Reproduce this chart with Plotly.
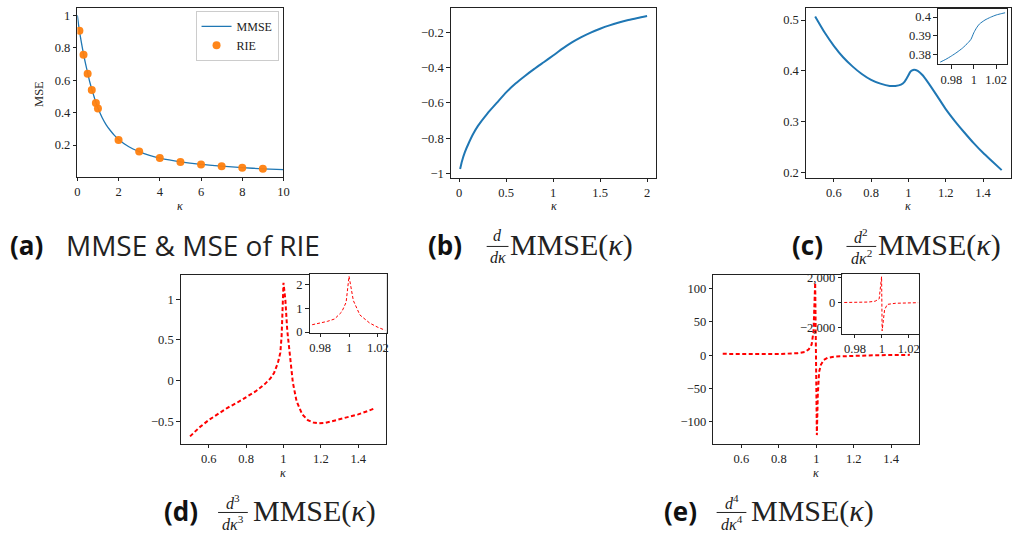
import plotly.graph_objects as go

# ---------------------------------------------------------------- data
# (a) MMSE curve and RIE estimates
kappa_mmse = [0, 0.1, 0.2, 0.3, 0.4, 0.5, 0.6, 0.7, 0.8, 0.9, 1.0, 1.2, 1.4, 1.6,
              1.8, 2.0, 2.5, 3.0, 3.5, 4.0, 5.0, 6.0, 7.0, 8.0, 9.0, 10.0]
mmse = [1.0, 0.905, 0.83, 0.76, 0.70, 0.645, 0.59, 0.545, 0.503, 0.463, 0.428,
        0.37, 0.325, 0.29, 0.26, 0.235, 0.19, 0.16, 0.137, 0.12, 0.097, 0.081,
        0.07, 0.061, 0.054, 0.049]
kappa_rie = [0.1, 0.3, 0.5, 0.7, 0.9, 1.0, 2, 3, 4, 5, 6, 7, 8, 9]
mse_rie = [0.905, 0.757, 0.64, 0.54, 0.46, 0.425, 0.232, 0.16, 0.12, 0.096,
           0.08, 0.07, 0.061, 0.054]

# (b) first derivative
kappa_d1 = [0.01, 0.03, 0.06, 0.1, 0.15, 0.2, 0.3, 0.4, 0.5, 0.6, 0.7, 0.8, 0.9,
            1.0, 1.1, 1.2, 1.3, 1.4, 1.5, 1.6, 1.7, 1.8, 1.9, 2.0]
d1 = [-0.975, -0.93, -0.88, -0.83, -0.775, -0.73, -0.66, -0.6, -0.54, -0.49,
      -0.447, -0.407, -0.369, -0.331, -0.292, -0.257, -0.227, -0.201, -0.179,
      -0.16, -0.144, -0.13, -0.118, -0.107]

# (c) second derivative
kappa_d2 = [0.5, 0.55, 0.6, 0.65, 0.7, 0.75, 0.8, 0.85, 0.9, 0.93, 0.96, 0.98,
            1.0, 1.01, 1.02, 1.03, 1.05, 1.075, 1.1, 1.15, 1.2, 1.25, 1.3, 1.35,
            1.4, 1.45, 1.5]
d2 = [0.507, 0.476, 0.4495, 0.427, 0.409, 0.394, 0.3825, 0.375, 0.3705, 0.3705,
      0.373, 0.379, 0.3915, 0.398, 0.401, 0.4025, 0.400, 0.392, 0.380, 0.353,
      0.325, 0.301, 0.279, 0.258, 0.239, 0.222, 0.205]
kappa_d2_zoom = [0.97, 0.975, 0.98, 0.985, 0.99, 0.995, 0.9975, 1.0, 1.0025,
                 1.005, 1.01, 1.015, 1.02, 1.025, 1.028]
d2_zoom = [0.3757, 0.3772, 0.379, 0.381, 0.3833, 0.3862, 0.388, 0.3915, 0.3942,
           0.3962, 0.3984, 0.3999, 0.4011, 0.4019, 0.4023]

# (d) third derivative
kappa_d3 = [0.5, 0.55, 0.6, 0.65, 0.7, 0.75, 0.8, 0.85, 0.9, 0.93, 0.95, 0.97,
            0.983, 0.99, 1.0, 1.01, 1.02, 1.03, 1.04, 1.05, 1.07, 1.1, 1.13, 1.16,
            1.19, 1.22, 1.25, 1.3, 1.35, 1.4, 1.45, 1.49]
d3 = [-0.68, -0.57, -0.48, -0.40, -0.33, -0.27, -0.2, -0.13, -0.04, 0.03, 0.10,
      0.22, 0.345, 0.55, 1.2, 0.99, 0.62, 0.38, 0.14, -0.02, -0.25, -0.41, -0.48,
      -0.51, -0.52, -0.515, -0.5, -0.47, -0.44, -0.41, -0.37, -0.335]
kappa_d3_zoom = [0.9745, 0.98, 0.985, 0.99, 0.995, 0.998, 1.0, 1.003, 1.0075,
                 1.0143, 1.02, 1.025]
d3_zoom = [0.31, 0.38, 0.45, 0.55, 0.85, 1.25, 2.34, 1.32, 0.72, 0.38, 0.2, 0.08]

# (e) fourth derivative
kappa_d4 = [0.5, 0.6, 0.7, 0.8, 0.9, 0.94, 0.96, 0.975, 0.985, 0.99, 0.994,
            1.003, 1.008, 1.015, 1.025, 1.04, 1.06, 1.1, 1.2, 1.3, 1.4, 1.5]
d4 = [2, 1.7, 1.6, 1.8, 3, 5, 9, 16, 35, 65, 109, -120, -60, -25, -14, -7, -4,
      -2, -0.7, -0.2, 0.3, 0.5]
kappa_d4_zoom = [0.972, 0.98, 0.99, 0.995, 0.998, 0.9998, 1.0002, 1.002, 1.004,
                 1.01, 1.02, 1.027]
d4_zoom = [5, 10, 40, 110, 300, 2098, -2289, -600, -150, -60, -20, -10]

# ---------------------------------------------------------------- layout helpers
W, H = 1018, 545
BLUE, ORANGE, RED = "#1f77b4", "#ff7f0e", "#ff0000"
SERIF = "Liberation Serif, Times New Roman, serif"
SANS = "Open Sans, sans-serif"
INK = "#222222"


def xdom(left, right):
    return [max(0, left / W), min(1, right / W)]


def ydom(top, bottom):
    return [max(0, 1 - bottom / H), min(1, 1 - top / H)]


def axis(domain, rng, tickvals, ticktext=None, anchor=None):
    d = dict(domain=domain, range=rng, tickvals=tickvals, showline=True,
             mirror=True, linecolor=INK, linewidth=1, ticks="outside",
             ticklen=3.5, tickwidth=1, tickcolor=INK, showgrid=False,
             zeroline=False, fixedrange=True,
             tickfont=dict(family=SERIF, size=12.5, color=INK))
    if ticktext is not None:
        d["ticktext"] = ticktext
    if anchor:
        d["anchor"] = anchor
    return d


fig = go.Figure()

# (a)
fig.add_trace(go.Scatter(x=kappa_mmse, y=mmse, mode="lines", name="MMSE",
                         line=dict(color=BLUE, width=1.3, shape="spline",
                                   smoothing=0.6),
                         xaxis="x", yaxis="y"))
fig.add_trace(go.Scatter(x=kappa_rie, y=mse_rie, mode="markers", name="RIE",
                         marker=dict(color=ORANGE, size=8, opacity=0.95),
                         xaxis="x", yaxis="y"))
# (b)
fig.add_trace(go.Scatter(x=kappa_d1, y=d1, mode="lines", showlegend=False,
                         line=dict(color=BLUE, width=2, shape="spline",
                                   smoothing=0.6),
                         xaxis="x2", yaxis="y2"))
# (c) and its zoom
fig.add_trace(go.Scatter(x=kappa_d2, y=d2, mode="lines", showlegend=False,
                         line=dict(color=BLUE, width=2, shape="spline",
                                   smoothing=0.6),
                         xaxis="x3", yaxis="y3"))
fig.add_trace(go.Scatter(x=kappa_d2_zoom, y=d2_zoom, mode="lines",
                         showlegend=False,
                         line=dict(color=BLUE, width=1, shape="spline",
                                   smoothing=0.6),
                         xaxis="x4", yaxis="y4"))
# (d) and its zoom
fig.add_trace(go.Scatter(x=kappa_d3, y=d3, mode="lines", showlegend=False,
                         line=dict(color=RED, width=2, dash="4px,2.5px"),
                         xaxis="x5", yaxis="y5"))
fig.add_trace(go.Scatter(x=kappa_d3_zoom, y=d3_zoom, mode="lines",
                         showlegend=False,
                         line=dict(color=RED, width=1, dash="3px,2px"),
                         xaxis="x6", yaxis="y6"))
# (e) and its zoom
fig.add_trace(go.Scatter(x=kappa_d4, y=d4, mode="lines", showlegend=False,
                         line=dict(color=RED, width=2, dash="4px,2.5px"),
                         xaxis="x7", yaxis="y7"))
fig.add_trace(go.Scatter(x=kappa_d4_zoom, y=d4_zoom, mode="lines",
                         showlegend=False,
                         line=dict(color=RED, width=1, dash="3px,2px"),
                         xaxis="x8", yaxis="y8"))

k_ticks = [0.6, 0.8, 1.0, 1.2, 1.4]
k_text = ["0.6", "0.8", "1", "1.2", "1.4"]
z_ticks = [0.98, 1.0, 1.02]
z_text = ["0.98", "1", "1.02"]

layout = dict(
    width=W, height=H, margin=dict(l=0, r=0, t=0, b=0),
    paper_bgcolor="white", plot_bgcolor="white",
    # (a)
    xaxis=axis(xdom(75, 283), [0, 10], [0, 2, 4, 6, 8, 10], anchor="y"),
    yaxis=axis(ydom(5, 177), [0.005, 1.045], [0.2, 0.4, 0.6, 0.8, 1.0],
               ["0.2", "0.4", "0.6", "0.8", "1"], anchor="x"),
    # (b)
    xaxis2=axis(xdom(451.7, 659.3), [-0.09, 2.1], [0, 0.5, 1, 1.5, 2],
                ["0", "0.5", "1", "1.5", "2"], anchor="y2"),
    yaxis2=axis(ydom(5, 178), [-1.024, -0.061], [-1, -0.8, -0.6, -0.4, -0.2],
                ["\u22121", "\u22120.8", "\u22120.6", "\u22120.4", "\u22120.2"],
                anchor="x2"),
    # (c)
    xaxis3=axis(xdom(810, 1017), [0.45, 1.55], k_ticks, k_text, anchor="y3"),
    yaxis3=axis(ydom(5, 178), [0.19, 0.524], [0.2, 0.3, 0.4, 0.5],
                ["0.2", "0.3", "0.4", "0.5"], anchor="x3"),
    xaxis4=axis(xdom(943.3, 1013.3), [0.968, 1.030], z_ticks, z_text,
                anchor="y4"),
    yaxis4=axis(ydom(6, 62.3), [0.3746, 0.4044], [0.38, 0.39, 0.4],
                ["0.38", "0.39", "0.4"], anchor="x4"),
    # (d)
    xaxis5=axis(xdom(179.3, 386.7), [0.45, 1.55], k_ticks, k_text, anchor="y5"),
    yaxis5=axis(ydom(276.7, 449), [-0.77, 1.30], [-0.5, 0, 0.5, 1],
                ["\u22120.5", "0", "0.5", "1"], anchor="x5"),
    xaxis6=axis(xdom(309.3, 387.3), [0.9727, 1.0262], z_ticks, z_text,
                anchor="y6"),
    yaxis6=axis(ydom(275.7, 336), [-0.03, 2.45], [0, 1, 2], ["0", "1", "2"],
                anchor="x6"),
    # (e)
    xaxis7=axis(xdom(716.7, 924.4), [0.45, 1.55], k_ticks, k_text, anchor="y7"),
    yaxis7=axis(ydom(276.7, 449), [-133, 121], [-100, -50, 0, 50, 100],
                ["\u2212100", "\u221250", "0", "50", "100"], anchor="x7"),
    xaxis8=axis(xdom(846.7, 924), [0.9705, 1.0275], z_ticks, z_text,
                anchor="y8"),
    yaxis8=axis(ydom(276, 336.7), [-2508, 2317], [-2000, 0, 2000],
                ["\u22122,000", "0", "2,000"], anchor="x8"),
    legend=dict(x=278 / W, y=1 - 8 / H, xanchor="right", yanchor="top",
                bgcolor="rgba(255,255,255,0.9)", bordercolor="#cccccc",
                borderwidth=1, font=dict(family=SERIF, size=12, color=INK),
                itemwidth=30, tracegroupgap=0),
    showlegend=True,
)
fig.update_layout(**layout)

annotations = []
shapes = []


def text_at(x, y, text, size, family, xanchor="center", angle=0, color=INK):
    annotations.append(dict(x=x / W, y=1 - y / H, xref="paper", yref="paper",
                            text=text, showarrow=False, xanchor=xanchor,
                            yanchor="middle", textangle=angle,
                            font=dict(family=family, size=size, color=color)))


# axis labels
for cx, cy in [(179, 207), (555.5, 207), (913.5, 207), (283, 479), (820.5, 479)]:
    text_at(cx, cy, "<i>κ</i>", 12, SERIF)
text_at(37, 93, "MSE", 12.5, SERIF, angle=-90)


def caption(letter, x_letter, x_bar0, x_bar1, x_text, y_mid, order):
    text_at(x_letter, y_mid, f"<b>({letter})</b>", 26, SANS, xanchor="left",
            color="#111111")
    xc = (x_bar0 + x_bar1) / 2
    num = "<i>d</i>" if order == 1 else f"<i>d</i><sup>{order}</sup>"
    den = "<i>dκ</i>" if order == 1 else f"<i>dκ</i><sup>{order}</sup>"
    text_at(xc, y_mid - 10, num, 16, SERIF)
    text_at(xc, y_mid + 12, den, 16, SERIF)
    shapes.append(dict(type="line", xref="paper", yref="paper",
                       x0=x_bar0 / W, x1=x_bar1 / W,
                       y0=1 - (y_mid + 1) / H, y1=1 - (y_mid + 1) / H,
                       line=dict(color=INK, width=1)))
    text_at(x_text, y_mid, "MMSE(<i>κ</i>)", 30, SERIF, xanchor="left")


text_at(5, 247, "<b>(a)</b>", 26, SANS, xanchor="left", color="#111111")
text_at(62, 247, "MMSE &amp; MSE of RIE", 28, SANS, xanchor="left")
caption("b", 427, 488, 510, 510, 247, 1)
caption("c", 794, 851, 881, 881, 247, 2)
caption("d", 160, 217, 247, 250, 518, 3)
caption("e", 665, 720, 750, 753, 518, 4)

fig.update_layout(annotations=annotations, shapes=shapes)
fig.write_html("out.html")
